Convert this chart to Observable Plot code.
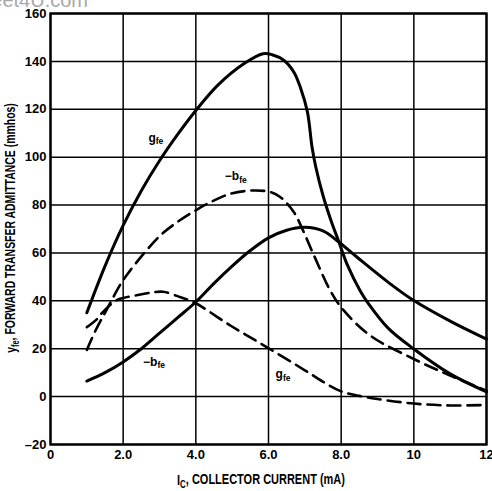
<!DOCTYPE html>
<html><head><meta charset="utf-8">
<script src="https://cdn.jsdelivr.net/npm/d3@7"></script>
<script src="https://cdn.jsdelivr.net/npm/@observablehq/plot@0.6"></script>
<style>body{margin:0;background:#fff} svg{display:block}</style>
</head><body><div id="chart"></div>
<script>
// g_fe (solid, upper)
const gfeSolidX = [1.0,1.5,2.0,2.5,3.0,3.5,4.0,4.6,5.32,5.85,6.1,6.42,6.7,6.88,7.07,7.2,7.3,7.5,7.71,7.94,8.17,8.53,8.72,9.3,10,11,12];
const gfeSolidY = [35,54.5,71.5,86,98.5,109.5,119.5,130,139,143.2,142.8,140.5,135.5,129,119,104,96,84,74,64.5,55,44,39.5,28.5,19.9,9.5,2];
// -b_fe (dashed, upper)
const bfeDashX = [1.0,1.24,1.5,1.93,2.16,2.56,3.03,3.5,4.13,4.4,4.95,5.6,6.06,6.33,6.7,6.97,7.25,7.71,8.07,8.8,10,11,12];
const bfeDashY = [19.5,27.6,35,47,52,59.6,67.4,73,79,81.2,84.7,86.1,85.4,83.3,77,68.7,59,44,36,25.5,15.7,8.8,2.5];
// -b_fe (solid, lower)
const bfeSolidX = [1.0,1.5,2.0,2.5,3.0,3.5,4.0,4.5,5.0,5.5,6.0,6.5,7.0,7.5,7.9,8.44,9.36,10,11,12];
const bfeSolidY = [6.5,10,14.5,20,26.5,33,39.5,47.3,54.5,61,66.3,69.5,70.7,69.2,65,58.2,47,40.1,31.5,24];
// g_fe (dashed, lower)
const gfeDashX = [1.0,1.28,1.42,1.79,2.0,2.4,2.8,3.1,3.58,3.95,4.95,5.96,7.0,7.5,8.0,8.5,9.0,10,11,12];
const gfeDashY = [29,32.4,35,40,41.2,42.4,43.5,43.8,41.5,39.4,29.7,20.6,11,6.2,2.2,0.3,-1,-2.9,-3.7,-3.5];

const xTicks = [0,2,4,6,8,10,12];
const xTickLabels = ["0","2.0","4.0","6.0","8.0","10","12"];
const yTicks = [-20,0,20,40,60,80,100,120,140,160];
const yTickLabels = ["\u201320","0","20","40","60","80","100","120","140","160"];

const curveLabelX = [2.9,5.1,2.85,6.4];
const curveLabelY = [108,92,14.5,9.3];
const curveLabelText = ["g_fe","\u2212b_fe","\u2212b_fe","g_fe"];

const xTitle = ["I_C", ", COLLECTOR CURRENT (mA)"];
const yTitle = ["y_fe", ", FORWARD TRANSFER ADMITTANCE (mmhos)"];

function toRows(xs, ys){ return xs.map((x,i)=>({x, y: ys[i]})); }
const labelRows = curveLabelX.map((x,i)=>({x, y: curveLabelY[i], t: curveLabelText[i]}));

const FONT = "'Liberation Sans', Arial, sans-serif";

const chart = Plot.plot({
  width: 492, height: 491,
  marginLeft: 50, marginRight: 6, marginTop: 13, marginBottom: 47,
  style: {fontFamily: FONT, fontSize: "13px", fontWeight: "bold", color: "black", background: "white"},
  x: {domain: [0,12], ticks: xTicks, tickFormat: d => xTickLabels[xTicks.indexOf(d)], tickSize: 0, tickPadding: 5, label: null},
  y: {domain: [-20,160], ticks: yTicks, tickFormat: d => yTickLabels[yTicks.indexOf(d)], tickSize: 0, tickPadding: 4, label: null},
  marks: [
    Plot.ruleX(xTicks, {stroke: "black", strokeWidth: 1.5}),
    Plot.ruleY(yTicks, {stroke: "black", strokeWidth: 1.5}),
    Plot.frame({stroke: "black", strokeWidth: 2.4}),
    Plot.line(toRows(gfeSolidX, gfeSolidY), {x: "x", y: "y", stroke: "black", strokeWidth: 3, curve: "catmull-rom"}),
    Plot.line(toRows(bfeSolidX, bfeSolidY), {x: "x", y: "y", stroke: "black", strokeWidth: 3, curve: "catmull-rom"}),
    Plot.line(toRows(bfeDashX, bfeDashY), {x: "x", y: "y", stroke: "black", strokeWidth: 2.6, strokeDasharray: "13,7", curve: "catmull-rom"}),
    Plot.line(toRows(gfeDashX, gfeDashY), {x: "x", y: "y", stroke: "black", strokeWidth: 2.6, strokeDasharray: "13,7", curve: "catmull-rom"}),
    Plot.text(labelRows, {x: "x", y: "y", text: "t", fill: "black", fontSize: 12, fontWeight: "bold"})
  ]
});

document.getElementById("chart").appendChild(chart);
const svg = d3.select(chart);
// subscripts for curve labels
svg.selectAll("text").each(function(){
  const el = d3.select(this);
  const s = el.text();
  if (s.includes("_") && this.childElementCount === 0) {
    const [a,b] = s.split("_");
    el.text(null);
    el.append("tspan").text(a);
    el.append("tspan").attr("font-size", 8.5).attr("dy", "0.3em").text(b);
  }
});
// watermark
svg.append("text").attr("x", 88).attr("y", 7).attr("text-anchor", "end")
  .attr("font-family", FONT).attr("font-size", 20).attr("font-weight", "normal")
  .attr("fill", "#a8a8a8").text("alldatasheet4U.com");

function title(parts, cx, cy, rot, target){
  const g = svg.append("g").attr("transform", `translate(${cx},${cy}) rotate(${rot})`);
  const t = g.append("text").attr("text-anchor", "middle")
    .attr("font-family", FONT).attr("font-size", 14).attr("font-weight", "bold").attr("fill", "black");
  const [a,b] = parts[0].split("_");
  t.append("tspan").text(a);
  t.append("tspan").attr("font-size", 10).attr("dy", "0.3em").text(b);
  t.append("tspan").attr("dy", "-0.3em").text(parts[1]);
  const len = t.node().getComputedTextLength();
  const s = target / len;
  t.attr("transform", `scale(${s},1)`);
}
title(xTitle, 261, 485, 0, 168);
title(yTitle, 16, 228, -90, 250);
</script>
</body></html>
